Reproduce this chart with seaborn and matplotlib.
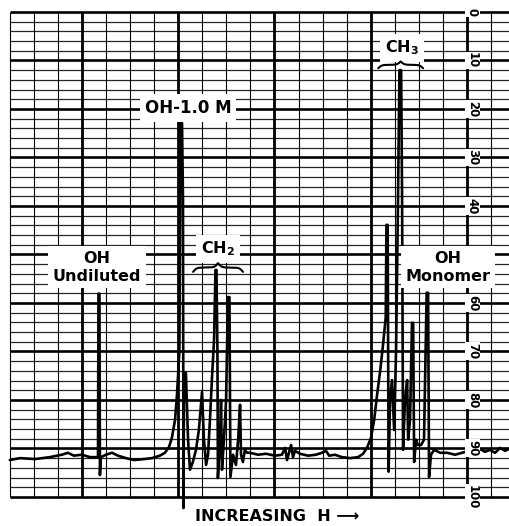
import numpy as np
import matplotlib
matplotlib.use("Agg")
import matplotlib.pyplot as plt
import seaborn as sns
import pandas as pd

sns.set_theme(style="white")
plt.rcParams['font.family'] = ['DejaVu Sans']
plt.rcParams['mathtext.fontset'] = 'dejavusans'
plt.rcParams['mathtext.default'] = 'bf'

# ---- recorder trace: horizontal position in chart divisions, pen reading on the 0-100 scale
trace_x = [0.01, 0.43, 1.05, 1.67, 2.17, 2.42, 2.67, 3.00, 3.34, 3.58,
           3.67, 3.69, 3.73, 3.75, 3.79,
           4.00, 4.25, 4.50, 4.83, 5.16, 5.58, 5.91, 6.24, 6.45, 6.62, 6.74, 6.87, 6.95, 7.05,
           7.10, 7.16, 7.20, 7.22, 7.24, 7.32, 7.41, 7.49, 7.61, 7.74, 7.86, 7.99, 8.07, 8.16,
           8.24, 8.32, 8.40, 8.49, 8.55, 8.59, 8.63, 8.65, 8.74, 8.78, 8.82, 8.90, 8.99, 9.07,
           9.13, 9.17, 9.28, 9.40, 9.49, 9.57, 9.61, 9.69, 9.77, 9.86,
           9.98, 10.32, 10.65, 11.02, 11.31, 11.44, 11.52, 11.60, 11.69, 11.77, 11.85, 12.06,
           12.39, 12.72, 12.97, 13.14, 13.27, 13.51, 13.80, 14.14, 14.47, 14.68, 14.84, 15.01,
           15.14, 15.26, 15.39, 15.50, 15.62,
           15.65, 15.70, 15.74, 15.80, 15.88, 15.97, 16.05, 16.13, 16.19, 16.26, 16.30, 16.34,
           16.42, 16.51, 16.55, 16.63, 16.71, 16.76, 16.80, 16.88, 16.96, 17.09, 17.21, 17.32,
           17.38, 17.42, 17.50, 17.63, 17.88, 18.17, 18.50, 18.79, 19.12, 19.32, 19.53, 19.74,
           19.95, 20.16, 20.37, 20.58, 20.74]
trace_y = [92.4, 92.0, 92.2, 91.8, 91.3, 90.9, 91.5, 91.3, 91.8, 91.8,
           91.8, 58.1, 58.1, 95.5, 91.8,
           91.3, 90.9, 91.5, 92.0, 92.4, 92.2, 92.0, 91.5, 90.9, 89.7, 87.8, 84.1, 79.0, 70.0,
           22.9, 22.9, 38.8, 102.3, 80.0, 74.4, 88.2, 94.4, 92.8, 90.3, 86.2, 78.4, 88.2, 93.4,
           91.3, 84.1, 75.9, 67.6, 53.2, 53.2, 69.7, 96.1, 88.2, 80.0, 94.4, 88.2, 80.0, 58.8,
           58.8, 95.9, 91.3, 93.4, 88.2, 81.0, 91.3, 92.8, 90.3, 90.9,
           90.9, 91.3, 91.1, 91.5, 91.3, 89.9, 92.4, 90.9, 89.3, 91.8, 90.5, 91.1,
           91.5, 91.3, 90.9, 90.5, 91.5, 91.3, 91.8, 92.0, 91.8, 91.1, 89.9, 87.8,
           84.1, 79.0, 74.0, 69.0, 63.0,
           43.9, 43.9, 94.8, 80.0, 75.9, 86.2, 69.7, 38.8, 12.0, 12.0, 38.8, 90.3,
           80.0, 75.9, 88.2, 84.1, 64.1, 64.1, 92.8, 88.2, 89.3, 89.3, 88.2, 57.9,
           57.9, 95.9, 91.3, 90.3, 90.9, 90.9, 91.3, 90.9, 90.5, 90.9, 90.1, 90.7,
           90.3, 90.9, 89.9, 90.5, 90.1]

# ---- chart-paper scale printed on the right (the 50 mark is hidden under a label)
scale_values = [0, 10, 20, 30, 40, 60, 70, 80, 90, 100]
scale_labels = ["0", "10", "20", "30", "40", "60", "70", "80", "90", "100"]

# ---- peak annotations
peak_labels = ["OH\nUndiluted", "OH-1.0 M", "CH$_2$", "CH$_3$", "OH\nMonomer"]
bottom_label = "INCREASING  H \u27f6"

df = pd.DataFrame({"position": trace_x, "reading": trace_y})

fig = plt.figure(figsize=(5.09, 5.26), dpi=100)
ax = fig.add_axes([0, 0, 1, 1])

# chart paper grid
paper_right = 20.74
major_cols = [3, 7, 11, 15, 19]
minor_cols = [c for c in range(0, 21) if c not in major_cols]
minor_rows = [r for r in range(2, 100, 2) if r % 10 != 0]
major_rows = list(range(0, 101, 10))
ax.vlines(minor_cols, 0, 100, color="black", lw=0.8, zorder=1)
ax.vlines(major_cols, 0, 100, color="black", lw=2.0, zorder=1)
ax.hlines(minor_rows, 0, paper_right, color="black", lw=0.9, alpha=0.85, zorder=1)
ax.hlines(major_rows, 0, paper_right, color="black", lw=1.9, zorder=1)

# the trace
sns.lineplot(data=df, x="position", y="reading", sort=False, estimator=None,
             color="black", lw=1.9, ax=ax, zorder=3)
ax.set_xlim(-0.40, 20.74)
ax.set_ylim(106.0, -2.47)
ax.axis("off")

# scale numbers
for v, lab in zip(scale_values, scale_labels):
    ax.text(19.22, v, lab, rotation=-90, ha="center", va="center", fontsize=8.5,
            fontweight="bold", color="black", zorder=4,
            bbox=dict(facecolor="white", edgecolor="none", pad=0.6))

box = dict(facecolor="white", edgecolor="none", pad=3.5)
tkw = dict(ha="center", va="center", fontweight="bold", color="black", zorder=6, bbox=box)
ax.text(3.63, 52.6, peak_labels[0], fontsize=11.5, linespacing=1.25, **tkw)
ax.text(7.41, 19.8, peak_labels[1], fontsize=12, **tkw)
ax.text(8.65, 48.9, peak_labels[2], fontsize=11.5, **tkw)
ax.text(16.30, 7.4, peak_labels[3], fontsize=11.5, **tkw)
ax.text(18.21, 52.6, peak_labels[4], fontsize=11.5, linespacing=1.25, **tkw)
ax.text(11.1, 104.1, bottom_label, ha="center", va="center", fontsize=11.5,
        fontweight="bold", color="black")


def brace(x0, x1, v_end, v_tip, beta=14.0):
    n = 201
    xs = np.linspace(x0, x1, n)
    half = xs[: n // 2 + 1]
    yh = (1 / (1 + np.exp(-beta * (half - half[0])))
          + 1 / (1 + np.exp(-beta * (half - half[-1]))))
    yy = np.concatenate((yh, yh[-2::-1]))
    vv = v_end - (yy - 0.5) * (v_end - v_tip)
    ax.plot(xs, vv, color="black", lw=1.5, zorder=7)


brace(15.31, 17.17, 11.6, 10.2)
brace(7.62, 9.69, 53.6, 51.8)

fig.savefig("out.png", dpi=100, facecolor="white")
